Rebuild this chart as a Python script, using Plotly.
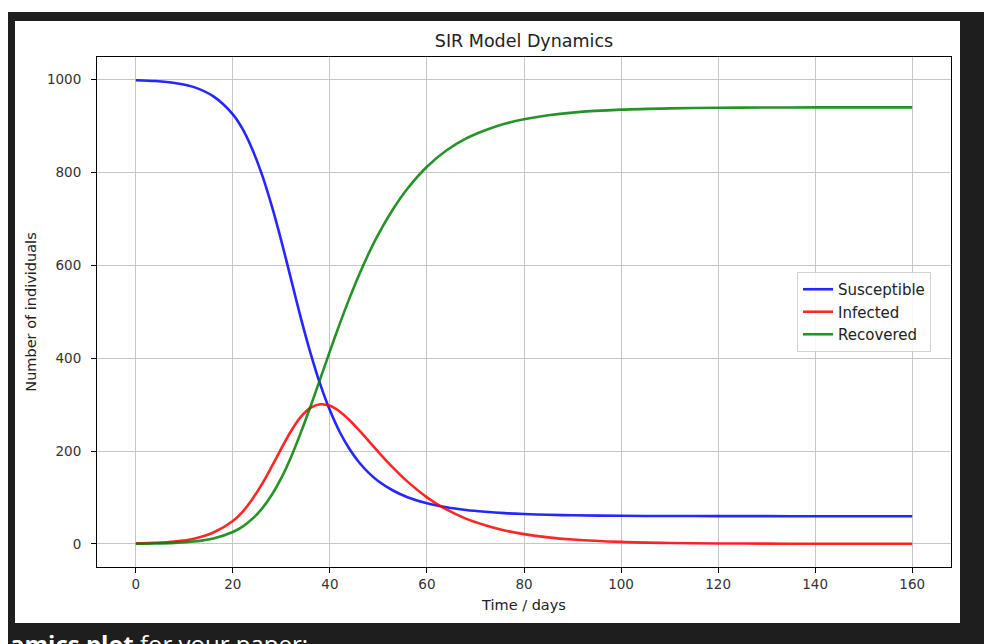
import plotly.graph_objects as go

# ---- data ----
days = [0, 4, 8, 12, 16, 20, 22, 24, 26, 28, 30, 32, 34, 36, 38, 40, 42, 44, 46, 48,
        50, 53, 56, 60, 64, 68, 72, 76, 80, 85, 90, 100, 110, 120, 130, 140, 150, 160]
susceptible = [999, 997.2, 993.1, 984.0, 964.0, 925.4, 894.0, 850.3, 795.6, 728.6,
               652.3, 569.7, 486.9, 411.1, 344.0, 287.6, 241.5, 204.8, 175.7, 152.9,
               134.9, 114.9, 100.5, 87.3, 78.6, 72.8, 69.0, 66.1, 64.2, 62.6, 61.5,
               60.4, 59.9, 59.7, 59.6, 59.5, 59.5, 59.5]
infected = [1, 2.2, 4.9, 11.0, 24.3, 49.1, 69.0, 96.0, 128.5, 166.2,
            205.6, 243.1, 273.5, 292.9, 300.6, 297.3, 285.2, 266.9, 245.0, 221.4,
            197.8, 164.3, 134.0, 100.2, 74.0, 54.3, 40.0, 28.8, 20.9, 13.9, 9.3,
            4.1, 1.8, 0.8, 0.35, 0.15, 0.07, 0.03]
recovered = [0, 0.6, 2.0, 5.0, 11.7, 25.5, 37.0, 53.7, 75.9, 105.2,
             142.1, 187.2, 239.6, 296.0, 355.4, 415.1, 473.3, 528.3, 579.3, 625.7,
             667.3, 720.8, 765.5, 812.5, 847.4, 872.9, 891.0, 905.1, 914.9, 923.5, 929.2,
             935.5, 938.3, 939.5, 940.1, 940.3, 940.4, 940.5]

series_names = ["Susceptible", "Infected", "Recovered"]
series_values = [susceptible, infected, recovered]
series_colors = ["rgba(0,0,255,0.85)", "rgba(255,0,0,0.85)", "rgba(0,128,0,0.85)"]

x_ticks = [0, 20, 40, 60, 80, 100, 120, 140, 160]
y_ticks = [0, 200, 400, 600, 800, 1000]

title_text = "SIR Model Dynamics"
x_label = "Time / days"
y_label = "Number of individuals"

# ---- figure ----
fig = go.Figure()
for name, vals, col in zip(series_names, series_values, series_colors):
    fig.add_trace(go.Scatter(x=days, y=vals, mode="lines", name=name,
                             line=dict(color=col, width=2.6, shape="spline", smoothing=0.8)))

W, H = 984, 644
L, R, T, B = 97, 951, 57, 567


def px_x(p):
    return (p - L) / (R - L)


def px_y(p):
    return (B - p) / (B - T)


shapes = [
    dict(type="rect", xref="paper", yref="paper", layer="below",
         x0=px_x(8), x1=px_x(1000), y0=px_y(660), y1=px_y(12),
         fillcolor="#1e1e1e", line=dict(width=0)),
    dict(type="rect", xref="paper", yref="paper", layer="below",
         x0=px_x(15), x1=px_x(960), y0=px_y(623), y1=px_y(21),
         fillcolor="white", line=dict(width=0)),
]

axis_common = dict(
    showline=True, linecolor="black", linewidth=1, mirror=True,
    ticks="outside", ticklen=5, tickcolor="black", tickwidth=1,
    showgrid=True, gridcolor="#c6c6c6", gridwidth=1, zeroline=False,
    tickfont=dict(family="DejaVu Sans", size=13.5, color="#333333"),
)

fig.update_layout(
    width=W, height=H,
    margin=dict(l=L, r=W - R, t=T, b=H - B),
    paper_bgcolor="white", plot_bgcolor="white",
    shapes=shapes,
    title=dict(text=title_text, x=(L + R) / 2 / W, xanchor="center",
               y=1 - 41 / H, yanchor="middle",
               font=dict(family="DejaVu Sans", size=17.5, color="#222222")),
    xaxis=dict(range=[-8, 168], tickvals=x_ticks,
               title=dict(text=x_label, standoff=8,
                          font=dict(family="DejaVu Sans", size=14.5, color="#222222")),
               **axis_common),
    yaxis=dict(range=[-49.95, 1048.95], tickvals=y_ticks, ticklabelstandoff=7,
               title=dict(text=y_label, standoff=6,
                          font=dict(family="DejaVu Sans", size=14.5, color="#222222")),
               **axis_common),
    legend=dict(x=px_x(797), y=px_y(272), xanchor="left", yanchor="top",
                bgcolor="rgba(255,255,255,0.85)", bordercolor="#d4d4d4", borderwidth=1,
                font=dict(family="DejaVu Sans", size=15, color="#222222")),
    annotations=[
        dict(xref="paper", yref="paper", x=px_x(8), y=px_y(625),
             xanchor="left", yanchor="top", showarrow=False, align="left",
             text="<b>amics plot</b> for your paper:",
             font=dict(family="Open Sans", size=24, color="white")),
    ],
)

fig.write_html(
    "out.html",
    config={"displayModeBar": False},
    post_script="document.body.style.margin='0';document.body.style.overflow='hidden';",
)
